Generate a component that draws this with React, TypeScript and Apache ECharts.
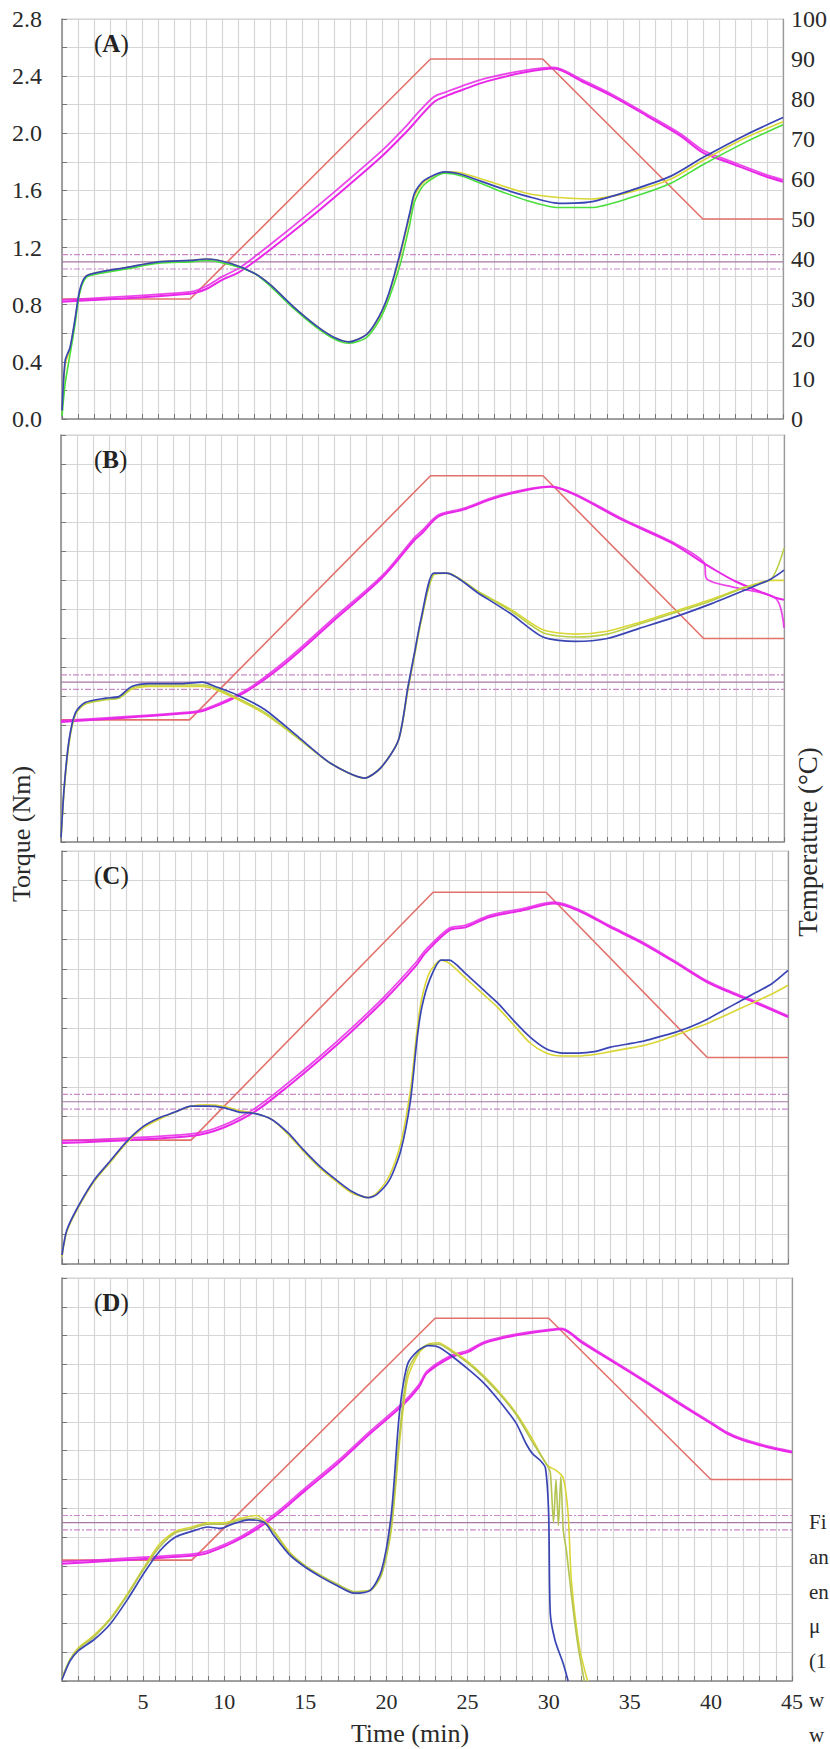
import React, { useEffect, useRef } from 'react';
import * as echarts from 'echarts';

// ---------- tick labels ----------
const torqueTickLabels = ['0.0', '0.4', '0.8', '1.2', '1.6', '2.0', '2.4', '2.8'];
const tempTickLabels = ['0', '10', '20', '30', '40', '50', '60', '70', '80', '90', '100'];
const timeTickLabels = [5, 10, 15, 20, 25, 30, 35, 40, 45];
const panelNames = ['A', 'B', 'C', 'D'];

// ---------- common ----------
const profileTime = [0, 8, 23, 30, 40, 45];
const profileTemp = [30, 30, 90, 90, 50, 50];
const refTorque = [1.05, 1.1, 1.15];

// ---------- panel A ----------
const aTime = [0, 0.2, 0.5, 0.8, 1.1, 1.5, 2.4, 4, 6, 8, 9, 10.5, 12, 13, 14.4, 15.9, 17, 17.9, 19, 19.8, 20.4, 21.1, 21.7, 22, 22.6, 23.9, 25, 27, 29, 31, 33, 35.5, 38, 40, 42.7, 45];
const aBlue = [0.06, 0.41, 0.5, 0.69, 0.9, 1.0, 1.03, 1.06, 1.1, 1.11, 1.12, 1.09, 1.02, 0.94, 0.79, 0.65, 0.57, 0.54, 0.59, 0.72, 0.88, 1.16, 1.44, 1.58, 1.67, 1.73, 1.71, 1.63, 1.56, 1.51, 1.52, 1.6, 1.7, 1.83, 1.99, 2.11];
const aYellow = [0.05, 0.38, 0.49, 0.68, 0.89, 1.0, 1.03, 1.06, 1.1, 1.11, 1.12, 1.09, 1.02, 0.94, 0.79, 0.65, 0.57, 0.54, 0.59, 0.71, 0.87, 1.14, 1.42, 1.56, 1.66, 1.73, 1.72, 1.65, 1.58, 1.55, 1.54, 1.59, 1.68, 1.81, 1.97, 2.08];
const aGreen = [0.02, 0.25, 0.45, 0.65, 0.88, 0.99, 1.02, 1.05, 1.09, 1.1, 1.11, 1.08, 1.02, 0.93, 0.78, 0.64, 0.56, 0.53, 0.57, 0.69, 0.84, 1.08, 1.36, 1.52, 1.64, 1.72, 1.7, 1.61, 1.53, 1.48, 1.48, 1.55, 1.65, 1.78, 1.94, 2.06];
const aTempTime = [0, 8, 9, 10, 11, 12, 14, 16, 18, 20, 21.5, 22, 23.2, 24, 25, 26.5, 28.8, 30.7, 32.4, 34.4, 36.5, 38.6, 40, 41.7, 43.8, 45];
const aMag1 = [29.3, 31.3, 32.5, 34.8, 36.6, 39.3, 45.5, 52, 58.8, 65.8, 71.8, 74.0, 79.2, 80.8, 82.3, 84.4, 86.6, 87.6, 84.5, 80.6, 75.8, 70.8, 66.6, 64.0, 60.8, 59.3];
const aMag2 = [29.8, 31.8, 33.2, 35.6, 37.6, 40.5, 46.8, 53.4, 60.2, 67.2, 73.3, 75.6, 80.5, 81.8, 83.3, 85.2, 87.1, 87.9, 84.9, 81.0, 76.2, 71.3, 67.2, 64.5, 61.3, 59.8];

// ---------- panel B ----------
const bTime = [0, 0.2, 0.5, 0.9, 1.5, 2.8, 3.6, 4.4, 5.5, 7.5, 8.8, 9.6, 11, 12.7, 14.8, 16.8, 18.9, 19.9, 21, 21.6, 22, 22.4, 23.2, 24, 26, 28, 30, 32, 34, 36, 38, 40.5, 42.5, 44.2, 45];
const bBlue = [0.03, 0.38, 0.7, 0.89, 0.96, 0.99, 1.0, 1.07, 1.09, 1.09, 1.1, 1.07, 1.01, 0.91, 0.72, 0.54, 0.44, 0.51, 0.7, 1.07, 1.3, 1.53, 1.85, 1.85, 1.71, 1.57, 1.41, 1.38, 1.4, 1.47, 1.54, 1.64, 1.73, 1.81, 1.87];
const bYellow = [0.03, 0.36, 0.68, 0.88, 0.95, 0.98, 0.99, 1.05, 1.07, 1.07, 1.07, 1.05, 0.98, 0.88, 0.71, 0.54, 0.44, 0.51, 0.7, 1.05, 1.28, 1.51, 1.84, 1.85, 1.72, 1.6, 1.46, 1.43, 1.45, 1.51, 1.58, 1.67, 1.75, 1.8, 1.8];
const bGreen = [0.03, 0.37, 0.69, 0.88, 0.95, 0.98, 0.99, 1.06, 1.08, 1.08, 1.08, 1.06, 0.99, 0.89, 0.71, 0.54, 0.44, 0.51, 0.7, 1.06, 1.29, 1.52, 1.84, 1.85, 1.72, 1.59, 1.44, 1.41, 1.43, 1.5, 1.57, 1.66, 1.75, 1.81, 2.02];
const bTempTime = [0, 8, 9, 11.5, 14, 17, 20, 22, 22.5, 23.5, 25, 27, 29, 30.5, 32, 35, 38, 40, 40.2, 42, 44.5, 45];
const bMag1 = [29.5, 31.7, 32.4, 36.9, 44, 54.5, 65, 74.2, 76, 80, 81.6, 84.5, 86.5, 87.3, 85.3, 79, 73.5, 68.5, 68.0, 64, 60, 59.5];
const bMag2 = [29.8, 31.9, 32.7, 37.3, 44.6, 55.1, 65.5, 74.8, 76.6, 80.4, 81.9, 84.8, 86.7, 87.4, 85.5, 79.3, 73.8, 68.8, 64.6, 62.5, 59.8, 52.6];

// ---------- panel C ----------
const cTime = [0, 0.3, 1, 2, 3, 4, 5, 6, 7, 8, 9, 10, 11, 12, 13, 14, 15, 16, 17, 18, 19, 19.5, 20.3, 21, 21.6, 22, 22.3, 22.8, 23.5, 24, 25, 26, 27, 28, 29, 30, 31, 32, 33, 34, 35, 36, 37, 38, 39, 40, 41, 42, 43, 44, 45];
const cBlue = [0.06, 0.23, 0.39, 0.57, 0.7, 0.83, 0.93, 0.99, 1.03, 1.07, 1.07, 1.06, 1.03, 1.02, 0.98, 0.89, 0.77, 0.66, 0.57, 0.49, 0.45, 0.47, 0.57, 0.77, 1.11, 1.52, 1.74, 1.93, 2.06, 2.06, 1.97, 1.87, 1.77, 1.65, 1.54, 1.46, 1.43, 1.43, 1.44, 1.47, 1.49, 1.51, 1.54, 1.57, 1.61, 1.66, 1.72, 1.78, 1.84, 1.9, 1.99];
const cYellow = [0.05, 0.22, 0.38, 0.56, 0.69, 0.82, 0.92, 0.98, 1.03, 1.07, 1.08, 1.07, 1.04, 1.02, 0.98, 0.88, 0.76, 0.65, 0.56, 0.48, 0.45, 0.48, 0.6, 0.82, 1.18, 1.58, 1.8, 1.98, 2.06, 2.04, 1.94, 1.84, 1.74, 1.62, 1.5, 1.43, 1.41, 1.41, 1.42, 1.44, 1.46, 1.48, 1.51, 1.55, 1.59, 1.63, 1.68, 1.73, 1.78, 1.83, 1.89];
const cTempTime = [0, 8, 10, 12, 14, 16, 18, 20, 22, 22.5, 24, 25, 26.5, 28.5, 30.5, 32, 34, 36, 38, 40, 41.5, 43, 45];
const cMag1 = [29.3, 31.0, 33.0, 37.0, 43.0, 49.5, 56.5, 64.0, 72.5, 75.2, 80.8, 81.5, 84.0, 85.6, 87.3, 85.6, 81.5, 77.6, 73.0, 68.2, 65.6, 63.2, 59.8];
const cMag2 = [29.8, 31.5, 33.6, 37.8, 43.8, 50.3, 57.3, 64.8, 73.3, 75.9, 81.3, 82.0, 84.4, 86.0, 87.6, 85.9, 81.8, 77.9, 73.3, 68.5, 65.9, 63.5, 60.1];

// ---------- panel D ----------
const dBlueTime = [0, 0.5, 1, 2, 3, 4, 5, 6, 7, 8, 9, 9.8, 10.5, 11.5, 12.5, 13, 14, 15, 16, 17, 18, 19, 19.7, 20.3, 20.8, 21.3, 22, 22.6, 23.2, 24, 25, 26, 27, 28, 28.6, 29, 29.5, 29.8, 30.0, 30.1, 30.4, 30.9, 31.2];
const dBlue = [0.01, 0.14, 0.21, 0.29, 0.4, 0.56, 0.74, 0.9, 1.0, 1.04, 1.07, 1.06, 1.09, 1.12, 1.1, 1.02, 0.88, 0.79, 0.72, 0.66, 0.61, 0.63, 0.77, 1.16, 1.86, 2.2, 2.3, 2.33, 2.32, 2.26, 2.17, 2.07, 1.94, 1.79, 1.65, 1.58, 1.53, 1.48, 1.16, 0.47, 0.28, 0.12, 0.0];
const dYellowTime = [0, 0.5, 1, 2, 3, 4, 5, 6, 7, 8, 9, 10, 11, 12, 13, 14, 15, 16, 17, 18, 19, 19.7, 20.3, 20.8, 21.3, 22, 22.6, 23.2, 24, 25, 26, 27, 28, 29, 29.9, 30.5, 30.9, 31.2, 31.4, 31.9, 32.4];
const dYellow = [0.02, 0.15, 0.23, 0.32, 0.44, 0.6, 0.78, 0.95, 1.04, 1.07, 1.1, 1.1, 1.13, 1.15, 1.05, 0.9, 0.8, 0.73, 0.67, 0.62, 0.63, 0.74, 1.05, 1.65, 2.1, 2.28, 2.34, 2.35, 2.3, 2.22, 2.12, 2.0, 1.86, 1.68, 1.5, 1.46, 1.41, 1.16, 0.7, 0.23, 0.0];
const dGreenTime = [0, 0.5, 1, 2, 3, 4, 5, 6, 7, 8, 9, 10, 11, 12, 13, 14, 15, 16, 17, 18, 19, 19.7, 20.3, 20.8, 21.3, 22, 22.6, 23.2, 24, 25, 26, 27, 28, 29, 29.9, 30.1, 30.3, 30.45, 30.6, 30.75, 30.9, 31.1, 31.4, 31.8, 32.2];
const dGreen = [0.02, 0.15, 0.22, 0.31, 0.43, 0.59, 0.77, 0.93, 1.03, 1.06, 1.09, 1.09, 1.12, 1.13, 1.04, 0.89, 0.8, 0.73, 0.67, 0.62, 0.63, 0.74, 1.08, 1.7, 2.15, 2.29, 2.34, 2.34, 2.29, 2.21, 2.11, 1.99, 1.85, 1.66, 1.5, 1.45, 1.1, 1.4, 1.08, 1.42, 1.05, 0.9, 0.6, 0.25, 0.0];
const dTempTime = [0, 8, 9, 11, 13, 15, 17, 19, 21, 22, 22.5, 24, 25, 26, 28, 30, 30.8, 32, 34, 36, 38, 40, 41, 42, 43.5, 45];
const dMag1 = [29.1, 31.1, 31.8, 35.3, 40.5, 47.3, 54.0, 61.4, 68.4, 72.9, 76.4, 80.4, 81.6, 83.8, 85.8, 87.0, 87.3, 84.1, 79.1, 74.1, 68.9, 63.9, 61.4, 59.7, 58.0, 56.7];
const dMag2 = [29.6, 31.5, 32.3, 35.8, 41.1, 47.9, 54.6, 62.0, 69.0, 73.5, 76.9, 80.8, 82.0, 84.1, 86.1, 87.2, 87.5, 84.4, 79.4, 74.4, 69.2, 64.2, 61.7, 60.0, 58.3, 57.0];

// ---------- caption fragments (cut at the right edge in the source) ----------
const captionFrag = ['Fi', 'an', 'en', 'μ', '(1', 'w', 'w'];

// ---------- layout / style ----------
const FONT = '"Liberation Serif", "DejaVu Serif", serif';
const gridBoxes = [
  { left: 62, top: 19, width: 722, height: 400 },
  { left: 61, top: 435, width: 723, height: 407 },
  { left: 62, top: 851, width: 726, height: 413 },
  { left: 62, top: 1278, width: 730, height: 403 },
];
const captionY = [1522, 1557, 1592, 1626, 1661, 1700, 1735];
const COL = {
  red: '#e2716c',
  mag: '#e827e8',
  blue: '#3a45b4',
  yellow: '#d9d636',
  greens: ['#4ade3c', '#b9cf45', '#c8d04a', '#b3c453'],
  grid: '#d6d6d6',
  axis: '#8a8a8a',
  refDash: '#c98ac9',
  refSolid: '#a577a5',
  text: '#2a2a2a',
};

const pairs = (t: number[], v: number[]) => t.map((x, i) => [x, v[i]]);

const panelData = [
  { t: [aTime, aTime, aTime], v: [aYellow, aGreen, aBlue], tt: aTempTime, m1: aMag1, m2: aMag2 },
  { t: [bTime, bTime, bTime], v: [bYellow, bGreen, bBlue], tt: bTempTime, m1: bMag1, m2: bMag2 },
  { t: [cTime, cTime, cTime], v: [cYellow, cYellow, cBlue], tt: cTempTime, m1: cMag1, m2: cMag2 },
  { t: [dYellowTime, dGreenTime, dBlueTime], v: [dYellow, dGreen, dBlue], tt: dTempTime, m1: dMag1, m2: dMag2 },
];

function buildOption() {
  const grid: any[] = [];
  const xAxis: any[] = [];
  const yAxis: any[] = [];
  const series: any[] = [];
  const graphic: any[] = [];

  gridBoxes.forEach((g, i) => {
    const last = i === gridBoxes.length - 1;
    const first = i === 0;
    grid.push({ ...g, show: true, borderColor: '#cfcfcf', borderWidth: 1, backgroundColor: 'transparent' });
    xAxis.push({
      type: 'value', gridIndex: i, min: 0, max: 45, interval: 1,
      axisLine: { show: true, lineStyle: { color: COL.axis, width: 1.5 } },
      axisTick: { show: true, inside: true, length: 5, lineStyle: { color: '#777' } },
      splitLine: { show: true, lineStyle: { color: COL.grid, width: 1.2 } },
      axisLabel: {
        show: last, margin: 9, fontFamily: FONT, fontSize: 22, color: COL.text,
        formatter: (v: number) => (timeTickLabels.indexOf(Math.round(v)) >= 0 && Math.abs(v - Math.round(v)) < 1e-6 ? String(Math.round(v)) : ''),
      },
    });
    yAxis.push({
      type: 'value', gridIndex: i, position: 'left', min: 0, max: 2.8, interval: 0.2,
      axisLine: { show: true, lineStyle: { color: COL.axis, width: 1.5 } },
      axisTick: { show: true, inside: true, length: 5, lineStyle: { color: '#777' } },
      splitLine: { show: true, lineStyle: { color: COL.grid, width: 1.2 } },
      axisLabel: {
        show: first, margin: 20, fontFamily: FONT, fontSize: 24, color: COL.text,
        formatter: (v: number) => {
          const k = Math.round(v * 10);
          return k % 4 === 0 ? torqueTickLabels[k / 4] : '';
        },
      },
    });
    yAxis.push({
      type: 'value', gridIndex: i, position: 'right', min: 0, max: 100, interval: 10,
      axisLine: { show: true, lineStyle: { color: '#9a9a9a', width: 1.2 } },
      axisTick: { show: false },
      splitLine: { show: false },
      axisLabel: {
        show: first, margin: 8, fontFamily: FONT, fontSize: 24, color: COL.text,
        formatter: (v: number) => tempTickLabels[Math.round(v / 10)] ?? '',
      },
    });

    const L = i * 2;
    const R = i * 2 + 1;
    const base = { type: 'line', xAxisIndex: i, showSymbol: false, symbol: 'none', silent: true, animation: false };

    refTorque.forEach((r, k) => {
      series.push({
        ...base, yAxisIndex: L, z: 2,
        data: [[0, r], [45, r]],
        lineStyle: k === 1
          ? { color: COL.refSolid, width: 1.2 }
          : { color: COL.refDash, width: 1.2, type: [6, 2, 2, 2] },
      });
    });
    series.push({
      ...base, yAxisIndex: R, z: 3,
      data: pairs(profileTime, profileTemp),
      lineStyle: { color: COL.red, width: 1.6 },
    });
    const pd = panelData[i];
    series.push({ ...base, yAxisIndex: R, z: 4, smooth: 0.3, data: pairs(pd.tt, pd.m2), lineStyle: { color: COL.mag, width: 1.8, opacity: 0.85 } });
    series.push({ ...base, yAxisIndex: R, z: 4, smooth: 0.3, data: pairs(pd.tt, pd.m1), lineStyle: { color: COL.mag, width: 2 } });
    const tcols = [COL.yellow, COL.greens[i], COL.blue];
    pd.t.forEach((tt, k) => {
      if (i === 2 && k === 1) return;
      series.push({
        ...base, yAxisIndex: L, z: 5 + k, smooth: 0.25,
        data: pairs(tt, pd.v[k]),
        lineStyle: { color: tcols[k], width: k === 2 ? 1.7 : 1.6 },
      });
    });

    graphic.push({
      type: 'text', x: 94, y: g.top + 24, z: 20,
      style: {
        text: '{n|(}{b|' + panelNames[i] + '}{n|)}',
        rich: {
          n: { fontFamily: FONT, fontSize: 25, fill: '#222', color: '#222' },
          b: { fontFamily: FONT, fontSize: 25, fontWeight: 'bold', fill: '#222', color: '#222' },
        },
        align: 'left', verticalAlign: 'middle', textAlign: 'left', textVerticalAlign: 'middle',
      },
    });
  });

  const titleStyle = (text: string, size: number) => ({
    text, fontFamily: FONT, fontSize: size, fill: COL.text,
    align: 'center', verticalAlign: 'middle', textAlign: 'center', textVerticalAlign: 'middle',
  });
  graphic.push({ type: 'text', x: 21, y: 834, rotation: Math.PI / 2, style: titleStyle('Torque (Nm)', 26) });
  graphic.push({ type: 'text', x: 808, y: 842, rotation: Math.PI / 2, style: titleStyle('Temperature (°C)', 27) });
  graphic.push({ type: 'text', x: 410, y: 1733, style: titleStyle('Time (min)', 26) });

  captionFrag.forEach((c, k) => {
    graphic.push({
      type: 'text', x: 809, y: captionY[k],
      style: { text: c, fontFamily: FONT, fontSize: 21, fill: COL.text, align: 'left', verticalAlign: 'middle', textAlign: 'left', textVerticalAlign: 'middle' },
    });
  });

  return { animation: false, backgroundColor: '#ffffff', grid, xAxis, yAxis, series, graphic };
}

export default function App() {
  const ref = useRef<HTMLDivElement>(null);
  useEffect(() => {
    if (!ref.current) return;
    const chart = echarts.init(ref.current, undefined, { renderer: 'svg' });
    chart.setOption(buildOption() as any);
    return () => chart.dispose();
  }, []);
  return (
    <div
      ref={ref}
      style={{ position: 'absolute', left: 0, top: 0, width: 830, height: 1749, background: '#fff' }}
    />
  );
}
